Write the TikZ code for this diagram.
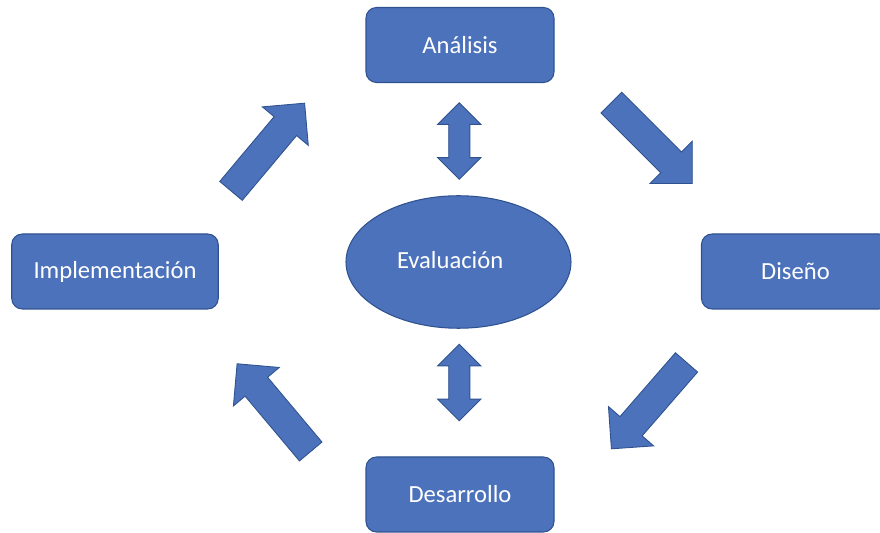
\documentclass[tikz,border=0pt]{standalone}
\usepackage{fontspec}
\setmainfont{Carlito}
\usetikzlibrary{positioning, shapes.geometric, shapes.arrows}
\definecolor{stageBlue}{RGB}{76, 114, 188}
\definecolor{stageEdge}{RGB}{47, 82, 143}

\begin{document}
\begin{tikzpicture}[
          box/.style={draw=stageEdge, fill=stageBlue, rounded corners=6pt, line width=0.6pt,
                      minimum width=3.76cm, minimum height=1.5cm, align=center,
                      text=white, font=\fontsize{14}{17}\selectfont},
          oval/.style={ellipse, draw=stageEdge, fill=stageBlue, line width=0.6pt, inner sep=0pt,
                       minimum width=4.5cm, minimum height=2.65cm,
                       text=white, font=\fontsize{14}{17}\selectfont},
          flow/.style={single arrow, draw=stageEdge, fill=stageBlue, line width=0.5pt,
                       inner sep=0.285cm, minimum width=0pt, minimum height=2.29cm,
                       single arrow head extend=0.305cm, single arrow tip angle=90, anchor=tip},
          link/.style={double arrow, draw=stageEdge, fill=stageBlue, line width=0.5pt,
                       inner sep=0.203cm, minimum width=0pt, minimum height=1.53cm,
                       double arrow head extend=0.22cm, double arrow tip angle=90, rotate=90}
        ]
        \useasboundingbox (0,0) rectangle (17.6,-10.66);

        % stages
        \node[box] (analisis)   at (9.2,-0.9)   {Análisis};
        \node[box] (diseno)     at (15.91,-5.43) {Diseño};
        \node[box] (desarrollo) at (9.2,-9.89)  {Desarrollo};
        \node[box, minimum width=4.13cm] (impl) at (2.3,-5.43) {Implementación};
        \node[oval] (eval) at (9.17,-5.24) {\makebox[2.46cm][l]{\raisebox{0.1cm}{Evaluación}}};

        % cycle arrows
        \node[flow, rotate=-45]  (toDis)  at (13.854,-3.68)  {};
        \node[flow, rotate=-131] (toDes)  at (12.22,-8.986)  {};
        \node[flow, rotate=130]  (toImp)  at (4.734,-7.266)  {};
        \node[flow, rotate=50]   (toAna)  at (6.1,-2.054)    {};

        % links to evaluation
        \node[link] (evalUp)   at (9.186,-2.82) {};
        \node[link] (evalDown) at (9.186,-7.65) {};
      \end{tikzpicture}
\end{document}
